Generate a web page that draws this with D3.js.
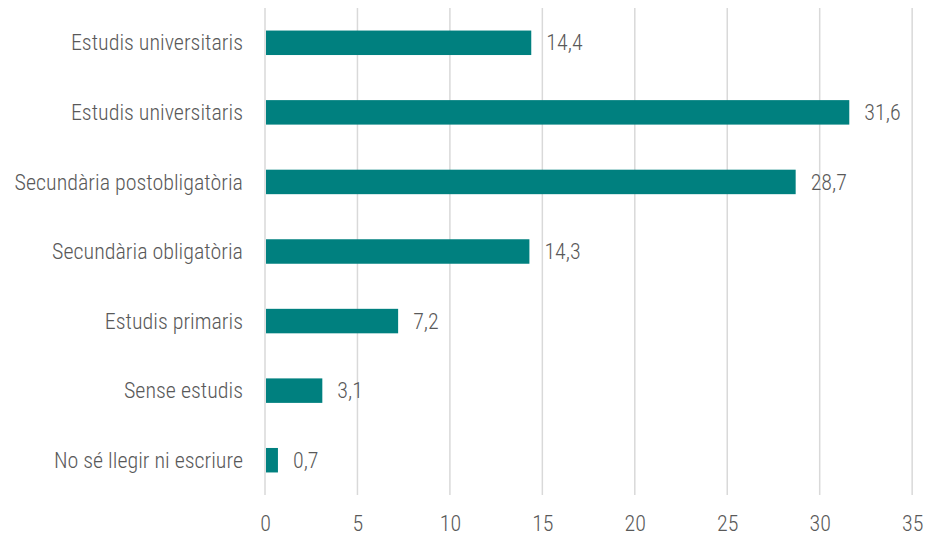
<!DOCTYPE html>
<html><head><meta charset="utf-8">
<script src="https://cdn.jsdelivr.net/npm/d3@7"></script>
<style>
body{margin:0;background:#fff;}
text{font-family:"Liberation Sans Narrow","Roboto Condensed","Arial Narrow","DejaVu Sans Condensed",sans-serif;fill:#595959;font-weight:300;}
</style></head><body>
<svg id="c" width="927" height="539"></svg>
<script>
const categories = ["Estudis universitaris","Estudis universitaris","Secundària postobligatòria","Secundària obligatòria","Estudis primaris","Sense estudis","No sé llegir ni escriure"];
const values = [14.4,31.6,28.7,14.3,7.2,3.1,0.7];
const labels = ["14,4","31,6","28,7","14,3","7,2","3,1","0,7"];
const ticks = [0,5,10,15,20,25,30,35];

const svg = d3.select("#c");
const m = {left:265, right:15, top:8, bottom:44};
const W = 927, H = 539;
const FS = 22;
const x = d3.scaleLinear().domain([0,35]).range([m.left, m.left + 35*18.49]);
const y = d3.scaleBand().domain(d3.range(categories.length)).range([m.top, H - m.bottom]).paddingInner(0.648).paddingOuter(0.324);

svg.append("g").selectAll("line").data(ticks).join("line")
  .attr("x1", d=>x(d)).attr("x2", d=>x(d))
  .attr("y1", m.top).attr("y2", H - m.bottom)
  .attr("stroke", "#d9d9d9").attr("stroke-width", 1.5);

svg.append("g").selectAll("rect").data(values).join("rect")
  .attr("x", x(0)+1).attr("y", (d,i)=>y(i))
  .attr("width", d=>x(d)-x(0)-1).attr("height", y.bandwidth())
  .attr("fill", "#00807f");

svg.append("g").selectAll("text").data(labels).join("text")
  .attr("x", (d,i)=>x(values[i]) + 15).attr("y", (d,i)=>y(i)+y.bandwidth()/2)
  .attr("dy", "0.35em").attr("font-size", FS).text(d=>d);

svg.append("g").selectAll("text").data(categories).join("text")
  .attr("x", m.left - 22).attr("y", (d,i)=>y(i)+y.bandwidth()/2)
  .attr("dy", "0.35em").attr("text-anchor", "end").attr("font-size", FS).text(d=>d);

const ax = d3.axisBottom(x).tickValues(ticks).tickSize(0).tickPadding(0).tickFormat(d=>d);
const g = svg.append("g").attr("transform", `translate(0,${H - m.bottom + 20})`).call(ax);
g.select(".domain").remove();
g.selectAll("text").attr("font-size", FS).attr("dy","0.71em").style("fill","#595959").style("font-family",null).style("font-weight",300);
</script></body></html>
